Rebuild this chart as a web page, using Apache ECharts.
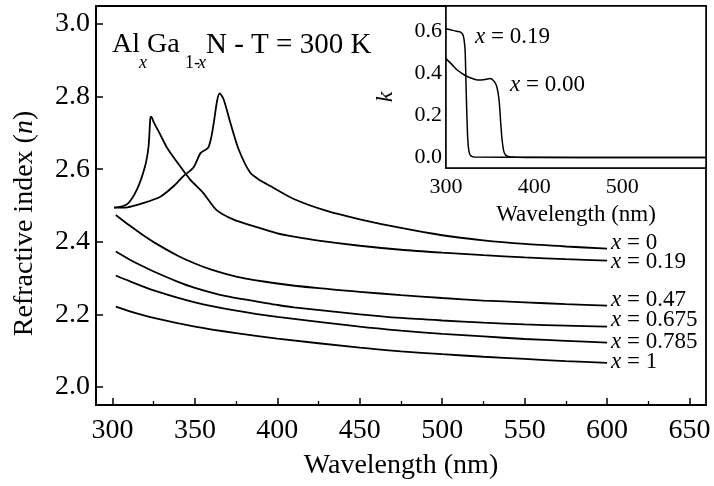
<!DOCTYPE html>
<html>
<head>
<meta charset="utf-8">
<script src="https://cdn.jsdelivr.net/npm/echarts@6/dist/echarts.min.js"></script>
<style>
html,body{margin:0;padding:0;background:#fff;}
#chart{width:714px;height:486px;}
</style>
</head>
<body>
<div id="chart"></div>
<script>
// ---- Main panel: refractive index n vs wavelength (nm) ----
const xTicks = [300, 350, 400, 450, 500, 550, 600, 650];
const xMinorTicks = [325, 375, 425, 475, 525, 575, 625];
const yTicks = [2.0, 2.2, 2.4, 2.6, 2.8, 3.0];

const seriesNames = ['x = 0', 'x = 0.19', 'x = 0.47', 'x = 0.675', 'x = 0.785', 'x = 1'];
const labelValues = ['0', '0.19', '0.47', '0.675', '0.785', '1'];

const wlX0 = [301, 309, 319, 329, 337, 343, 349, 353.5, 358, 360, 361.5, 363.5, 365, 367.4, 371.5, 376.5, 383.6, 390, 396, 410, 430, 450, 475, 500, 525, 550, 575, 600];
const nX0  = [2.494, 2.495, 2.507, 2.524, 2.553, 2.581, 2.604, 2.645, 2.659, 2.69, 2.73, 2.79, 2.809, 2.793, 2.728, 2.655, 2.59, 2.568, 2.553, 2.518, 2.485, 2.462, 2.438, 2.418, 2.404, 2.394, 2.387, 2.381];

const wlX019 = [301, 308.7, 314.8, 319.8, 321.9, 322.9, 323.5, 325, 328.9, 333, 338, 347, 355, 363, 373.5, 385.6, 400, 410, 425, 450, 475, 500, 525, 550, 575, 600];
const nX019  = [2.494, 2.503, 2.544, 2.609, 2.664, 2.738, 2.745, 2.73, 2.696, 2.66, 2.627, 2.572, 2.535, 2.488, 2.461, 2.443, 2.423, 2.414, 2.403, 2.389, 2.378, 2.37, 2.363, 2.357, 2.352, 2.348];

const wlX047 = [302, 310, 318, 325, 339, 350, 360, 375, 400, 425, 450, 475, 500, 525, 550, 575, 600];
const nX047  = [2.474, 2.446, 2.42, 2.399, 2.363, 2.34, 2.323, 2.304, 2.285, 2.272, 2.262, 2.253, 2.245, 2.238, 2.233, 2.228, 2.224];

const wlX0675 = [302, 310, 319, 325, 339, 350, 369, 400, 410, 450, 475, 500, 525, 550, 575, 600];
const nX0675  = [2.373, 2.352, 2.331, 2.318, 2.291, 2.273, 2.25, 2.226, 2.219, 2.2, 2.19, 2.183, 2.177, 2.172, 2.169, 2.166];

const wlX0785 = [302, 310, 325, 350, 375, 400, 450, 475, 500, 525, 550, 575, 600];
const nX0785  = [2.307, 2.292, 2.266, 2.233, 2.21, 2.193, 2.166, 2.155, 2.146, 2.139, 2.132, 2.127, 2.122];

const wlX1 = [302, 310, 325, 350, 375, 400, 450, 475, 500, 525, 550, 575, 600];
const nX1  = [2.221, 2.209, 2.19, 2.166, 2.148, 2.133, 2.108, 2.098, 2.09, 2.083, 2.077, 2.071, 2.066];

// ---- Inset: extinction coefficient k vs wavelength ----
const insetXTicks = [300, 400, 500];
const insetYTicks = [0.0, 0.2, 0.4, 0.6];

const wlK019 = [300, 305, 312, 316, 319, 320.5, 321.8, 323, 324.5, 326, 328, 332, 400, 500, 595];
const kK019  = [0.612, 0.607, 0.6, 0.597, 0.585, 0.56, 0.5, 0.3, 0.1, 0.03, 0.008, 0.002, 0.001, 0.0, 0.0];

const wlK000 = [300, 306, 312, 318, 324, 330, 336, 343, 350, 354, 357, 359, 360.5, 362, 363.5, 365.5, 368, 372, 380, 400, 500, 595];
const kK000  = [0.47, 0.445, 0.418, 0.4, 0.385, 0.375, 0.368, 0.37, 0.375, 0.365, 0.345, 0.31, 0.26, 0.17, 0.09, 0.03, 0.01, 0.003, 0.001, 0.0, 0.0, 0.0];

const zip = (a, b) => a.map((v, i) => [v, b[i]]);
const mainData = [zip(wlX0, nX0), zip(wlX019, nX019), zip(wlX047, nX047), zip(wlX0675, nX0675), zip(wlX0785, nX0785), zip(wlX1, nX1)];
const labelDy = [-6, 1, -6, -7, -1, -1];

const FONT = 'Liberation Serif';
const black = '#000';

const mainSeries = mainData.map((d, i) => ({
  name: seriesNames[i],
  type: 'line',
  xAxisIndex: 0, yAxisIndex: 0,
  data: d,
  showSymbol: false,
  smooth: 0.25,
  lineStyle: {color: black, width: 1.8},
  itemStyle: {color: black},
  endLabel: {
    show: true,
    formatter: '{i|x} = ' + labelValues[i],
    distance: 4,
    offset: [0, labelDy[i]],
    color: black,
    fontFamily: FONT,
    fontSize: 23,
    rich: {i: {fontStyle: 'italic', fontFamily: FONT, fontSize: 23, color: black}}
  },
  animation: false,
  z: 3
}));

const insetSeries = [zip(wlK019, kK019), zip(wlK000, kK000)].map(d => ({
  type: 'line',
  xAxisIndex: 2, yAxisIndex: 1,
  data: d,
  showSymbol: false,
  smooth: 0.2,
  lineStyle: {color: black, width: 1.5},
  itemStyle: {color: black},
  animation: false,
  z: 5
}));

const chart = echarts.init(document.getElementById('chart'), null, {renderer: 'canvas'});
chart.setOption({
  backgroundColor: '#fff',
  animation: false,
  grid: [
    {left: 96, right: 8, top: 6, bottom: 81, show: true, borderColor: black, borderWidth: 1.8, backgroundColor: 'transparent'},
    {left: 446, right: 8, top: 6, bottom: 318, show: true, borderColor: black, borderWidth: 1.5, backgroundColor: '#fff', z: 4}
  ],
  xAxis: [
    {
      type: 'value', gridIndex: 0, min: 290, max: 660,
      name: 'Wavelength (nm)', nameLocation: 'middle', nameGap: 47,
      nameTextStyle: {fontFamily: FONT, fontSize: 28, color: black},
      axisLine: {show: true, onZero: false, lineStyle: {color: black, width: 1.8}},
      axisTick: {show: true, inside: true, length: 7, customValues: xTicks, lineStyle: {color: black, width: 1.5}},
      axisLabel: {show: true, customValues: xTicks, margin: 12, fontFamily: FONT, fontSize: 28, color: black},
      splitLine: {show: false}
    },
    {
      type: 'value', gridIndex: 0, min: 290, max: 660, position: 'bottom',
      axisLine: {show: false},
      axisTick: {show: true, inside: true, length: 4, customValues: xMinorTicks, lineStyle: {color: black, width: 1.3}},
      axisLabel: {show: false},
      splitLine: {show: false}
    },
    {
      type: 'value', gridIndex: 1, min: 300, max: 595,
      name: 'Wavelength (nm)', nameLocation: 'middle', nameGap: 35,
      nameTextStyle: {fontFamily: FONT, fontSize: 23, color: black},
      axisLine: {show: true, onZero: false, lineStyle: {color: black, width: 1.5}},
      axisTick: {show: true, inside: true, length: 5, customValues: insetXTicks, lineStyle: {color: black, width: 1.2}},
      axisLabel: {show: true, customValues: insetXTicks, margin: 8, fontFamily: FONT, fontSize: 22, color: black},
      splitLine: {show: false}
    }
  ],
  yAxis: [
    {
      type: 'value', gridIndex: 0, min: 1.95, max: 3.05,
      name: 'Refractive index ({i|n})', nameLocation: 'middle', nameGap: 57,
      nameTextStyle: {fontFamily: FONT, fontSize: 28, color: black, padding: [0, 36, 0, 0],
        rich: {i: {fontStyle: 'italic', fontFamily: FONT, fontSize: 28, color: black}}},
      axisLine: {show: true, onZero: false, lineStyle: {color: black, width: 1.8}},
      axisTick: {show: true, inside: true, length: 7, customValues: yTicks, lineStyle: {color: black, width: 1.5}},
      axisLabel: {show: true, customValues: yTicks, margin: 6, fontFamily: FONT, fontSize: 28, color: black,
        formatter: v => v.toFixed(1)},
      splitLine: {show: false}
    },
    {
      type: 'value', gridIndex: 1, min: -0.05, max: 0.72,
      axisLine: {show: true, onZero: false, lineStyle: {color: black, width: 1.5}},
      axisTick: {show: true, inside: true, length: 5, customValues: insetYTicks, lineStyle: {color: black, width: 1.2}},
      axisLabel: {show: true, customValues: insetYTicks, margin: 4, fontFamily: FONT, fontSize: 22, color: black,
        formatter: v => v.toFixed(1)},
      splitLine: {show: false}
    }
  ],
  graphic: [
    {type: 'text', x: 112, y: 45, z: 10, style: {text: 'Al', font: '28px "Liberation Serif"', fill: black, textAlign: 'left', textVerticalAlign: 'middle'}},
    {type: 'text', x: 139, y: 63, z: 10, style: {text: 'x', font: 'italic 18px "Liberation Serif"', fill: black, textAlign: 'left', textVerticalAlign: 'middle'}},
    {type: 'text', x: 147, y: 45, z: 10, style: {text: 'Ga', font: '28px "Liberation Serif"', fill: black, textAlign: 'left', textVerticalAlign: 'middle'}},
    {type: 'text', x: 185, y: 63, z: 10, style: {text: '1-', font: '18px "Liberation Serif"', fill: black, textAlign: 'left', textVerticalAlign: 'middle'}},
    {type: 'text', x: 198, y: 63, z: 10, style: {text: 'x', font: 'italic 18px "Liberation Serif"', fill: black, textAlign: 'left', textVerticalAlign: 'middle'}},
    {type: 'text', x: 206, y: 45, z: 10, style: {text: 'N - T = 300 K', font: '29px "Liberation Serif"', fill: black, textAlign: 'left', textVerticalAlign: 'middle'}},
    {type: 'text', x: 386, y: 97, rotation: Math.PI / 2, z: 10, style: {text: 'k', font: 'italic 24px "Liberation Serif"', fill: black, textAlign: 'center', textVerticalAlign: 'middle'}},
    {type: 'text', x: 475, y: 37, z: 10, style: {text: '{i|x} = 0.19', rich: {i: {fontStyle: 'italic', fontFamily: FONT, fontSize: 23, fill: black}}, font: '23px "Liberation Serif"', fontFamily: FONT, fontSize: 23, fill: black, textAlign: 'left', textVerticalAlign: 'middle'}},
    {type: 'text', x: 510, y: 85, z: 10, style: {text: '{i|x} = 0.00', rich: {i: {fontStyle: 'italic', fontFamily: FONT, fontSize: 23, fill: black}}, font: '23px "Liberation Serif"', fontFamily: FONT, fontSize: 23, fill: black, textAlign: 'left', textVerticalAlign: 'middle'}}
  ],
  series: mainSeries.concat(insetSeries)
});
</script>
</body>
</html>
